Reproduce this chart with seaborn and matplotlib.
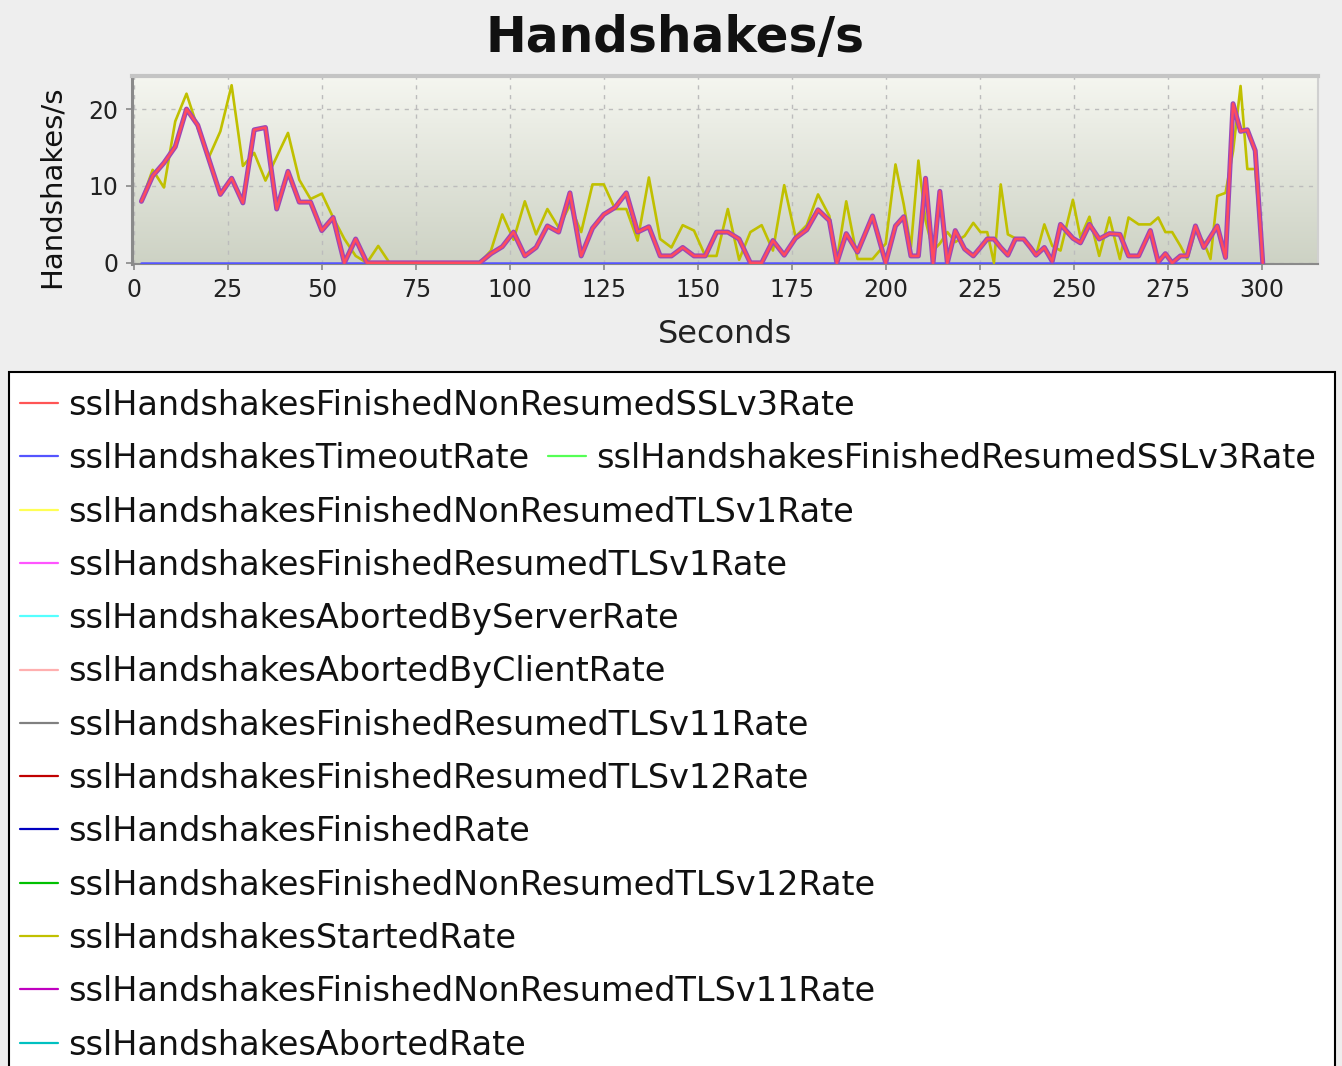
import numpy as np
import pandas as pd
import matplotlib
matplotlib.use("Agg")
import matplotlib.pyplot as plt
from matplotlib.patches import Rectangle
import seaborn as sns

# sample times (s): every 3 s up to 185, then the collector sped up (~2 s)
seconds = list(range(2, 186, 3)) + [
    187.0, 189.5, 192.5, 196.5, 200.0, 202.6, 204.8, 206.7, 208.7, 210.6,
    212.6, 214.4, 216.4, 218.5, 221.0, 223.3, 225.2, 227.0, 228.8, 230.6,
    232.5, 234.5, 236.7, 238.5, 240.0, 242.2, 244.3, 246.5, 249.8, 251.8,
    254.2, 256.8, 259.5, 262.3, 264.6, 267.3, 270.4, 272.5, 274.4, 276.2,
    278.4, 280.2, 282.4, 284.6, 286.4, 288.2, 290.4, 292.4, 294.4, 296.2,
    298.3, 300.3]

finished = [
    8.0, 11.3, 13.0, 15.1, 20.0, 17.9, 13.4, 8.9, 11.0, 7.8,
    17.3, 17.6, 7.0, 11.9, 7.9, 7.9, 4.2, 5.9, 0, 3.1,
    0, 0, 0, 0, 0, 0, 0, 0, 0, 0, 0,
    1.2, 2.1, 4.0, 0.9, 2.0, 4.8, 4.0, 9.1, 0.9, 4.5,
    6.3, 7.2, 9.1, 4.0, 4.7, 0.9, 0.9, 2.0, 0.9, 0.9,
    4.0, 4.0, 3.1, 0, 0, 2.9, 1.0, 3.2, 4.3, 6.9, 5.5,
    0, 3.8, 1.4, 6.1, 0, 4.8, 6.0, 0.9, 0.9, 11.0,
    0, 9.3, 0, 4.2, 1.8, 0.9, 2.0, 3.1, 3.1, 2.0,
    1.0, 3.1, 3.1, 2.0, 1.0, 2.0, 0.2, 5.0, 3.2, 2.6,
    5.0, 3.1, 3.8, 3.7, 0.9, 0.9, 4.2, 0.1, 1.2, 0,
    0.9, 0.9, 4.8, 2.0, 3.4, 4.8, 0.7, 20.7, 17.1, 17.3,
    14.6, 0]

started = [
    8.0, 12.1, 9.8, 18.4, 22.0, 17.5, 13.8, 17.1, 23.1, 12.6,
    14.3, 10.7, 13.8, 16.9, 10.8, 8.3, 9.0, 5.9, 3.1, 0.9,
    0, 2.2, 0, 0, 0, 0, 0, 0, 0, 0, 0,
    1.6, 6.3, 3.0, 8.0, 3.7, 7.0, 4.6, 7.5, 4.0, 10.2,
    10.2, 7.0, 7.0, 2.9, 11.1, 3.1, 2.0, 4.9, 4.2, 0.9,
    0.9, 7.0, 0.4, 4.0, 4.9, 1.6, 10.1, 3.4, 4.9, 8.9, 6.1,
    0.3, 8.0, 0.5, 0.5, 2.5, 12.8, 7.6, 2.0, 13.3, 5.5,
    1.6, 2.5, 4.0, 2.7, 3.5, 5.2, 4.0, 4.0, 0, 10.2,
    3.7, 3.2, 3.1, 2.2, 1.0, 5.0, 2.2, 1.6, 8.2, 3.3,
    6.0, 0.9, 5.9, 0.5, 5.9, 5.0, 5.0, 5.9, 4.0, 4.0,
    2.2, 0.5, 4.2, 2.7, 0.5, 8.7, 9.1, 14.5, 23.0, 12.2,
    12.2, 0]

timeout = [0.0] * len(seconds)

series_names = [
    "sslHandshakesFinishedNonResumedSSLv3Rate",
    "sslHandshakesTimeoutRate",
    "sslHandshakesFinishedResumedSSLv3Rate",
    "sslHandshakesFinishedNonResumedTLSv1Rate",
    "sslHandshakesFinishedResumedTLSv1Rate",
    "sslHandshakesAbortedByServerRate",
    "sslHandshakesAbortedByClientRate",
    "sslHandshakesFinishedResumedTLSv11Rate",
    "sslHandshakesFinishedResumedTLSv12Rate",
    "sslHandshakesFinishedRate",
    "sslHandshakesFinishedNonResumedTLSv12Rate",
    "sslHandshakesStartedRate",
    "sslHandshakesFinishedNonResumedTLSv11Rate",
    "sslHandshakesAbortedRate",
]
series_colors = [
    "#ff5555", "#5555ff", "#55ff55", "#ffff55", "#ff55ff", "#55ffff", "#ffafaf",
    "#808080", "#c00000", "#0000c0", "#00c000", "#c0c000", "#c000c0", "#00c0c0",
]
# legend rows (flow layout like the original)
legend_rows = [[0], [1, 2], [3], [4], [5], [6], [7], [8], [9], [10], [11], [12], [13]]

W, H = 1342, 1066
sns.set_style("white")
plt.rcParams["font.family"] = ["DejaVu Sans"]

fig = plt.figure(figsize=(W / 100, H / 100), dpi=100, facecolor="#eeeeee")
ax = fig.add_axes([132 / W, 1 - 264 / H, (1318 - 132) / W, (264 - 76) / H])

# plot background gradient
grad = np.linspace(0, 1, 256).reshape(-1, 1)
cmap = matplotlib.colors.LinearSegmentedColormap.from_list("bg", ["#f5f6f0", "#cdd2c4"])
ax.imshow(grad, extent=[0, 1, 0, 1], transform=ax.transAxes, aspect="auto",
          cmap=cmap, zorder=0)

df = pd.DataFrame({"seconds": seconds, "finished": finished,
                   "started": started, "timeout": timeout})

sns.lineplot(data=df, x="seconds", y="timeout", color="#5555ff", lw=1.8,
             estimator=None, sort=False, ax=ax, zorder=3)
sns.lineplot(data=df, x="seconds", y="started", color="#c0c000", lw=1.9,
             estimator=None, sort=False, ax=ax, zorder=4)
sns.lineplot(data=df, x="seconds", y="finished", color="#9a48b8", lw=3.6,
             estimator=None, sort=False, ax=ax, zorder=5)
sns.lineplot(data=df, x="seconds", y="finished", color="#ff4a5e", lw=1.8,
             estimator=None, sort=False, ax=ax, zorder=6)

ax.set_xlim(-0.5, 315)
ax.set_ylim(-0.15, 24.3)
ax.set_xticks(range(0, 301, 25))
ax.set_yticks([0, 10, 20])
ax.set_axisbelow(True)
ax.grid(True, color="#bcbcbc", linestyle=(0, (3, 4)), lw=1)
ax.tick_params(labelsize=17, length=4, color="#888888", width=1.2, pad=6,
               bottom=True, left=True)
for lab in ax.get_xticklabels() + ax.get_yticklabels():
    lab.set_color("#222222")
ax.spines["left"].set_color("#8a8a8a")
ax.spines["left"].set_linewidth(2.2)
ax.spines["bottom"].set_color("#8a8a8a")
ax.spines["bottom"].set_linewidth(1.5)
ax.spines["top"].set_color("#c4c4c4")
ax.spines["top"].set_linewidth(3)
ax.spines["right"].set_color("#d0d0d0")
ax.spines["right"].set_linewidth(1.5)
ax.set_xlabel("Seconds", fontsize=23, color="#222222", labelpad=12)
ax.set_ylabel("")

fig.text(52 / W, 1 - 187 / H, "Handshakes/s", rotation=90, fontsize=21,
         ha="center", va="center", color="#111111")
fig.text(675 / W, 1 - 38 / H, "Handshakes/s", fontsize=35, fontweight="bold",
         ha="center", va="center", color="#111111")

# legend panel
lax = fig.add_axes([0, 0, 1, 1], zorder=-1)
lax.set_xlim(0, W)
lax.set_ylim(H, 0)
lax.axis("off")
lax.add_patch(Rectangle((9, 372), 1326, 720, facecolor="white",
                        edgecolor="black", lw=1.5))
row_x = [20, 548]
for r, row in enumerate(legend_rows):
    y = 403 + 53.3 * r
    for c, idx in enumerate(row):
        x0 = row_x[c]
        lax.plot([x0, x0 + 38], [y, y], color=series_colors[idx], lw=1.6)
        lax.text(x0 + 48, y + 12, series_names[idx], fontsize=24.1,
                 va="baseline", ha="left", color="#111111")

fig.savefig("out.png", dpi=100, facecolor=fig.get_facecolor())
